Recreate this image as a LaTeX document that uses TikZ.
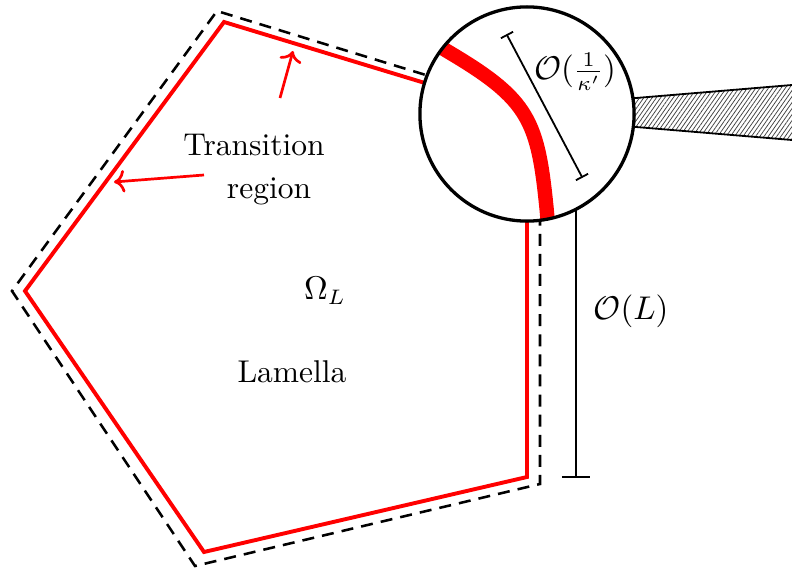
\documentclass[tikz,border=0pt]{standalone}
\usetikzlibrary{patterns.meta,arrows.meta,calc}
\begin{document}
\begin{tikzpicture}[x=0.33333pt,y=-0.33333pt,
  redline/.style={red,line width=1.3pt,line join=miter},
  dashline/.style={black,line width=0.85pt,dash pattern=on 4pt off 2.7pt},
  thinline/.style={black,line width=0.6pt},
  redarrow/.style={red,line width=0.9pt,->},
  lbl/.style={inner sep=0pt,font=\fontsize{10.5}{12.6}\selectfont}]
\useasboundingbox (0,0) rectangle (792,572);
% vertices
\coordinate (R1) at (224,22);
\coordinate (R2) at (25,291);
\coordinate (R3) at (204,552);
\coordinate (R4) at (527,477);
\coordinate (C) at (527,114);
\coordinate (D1) at (217,11);
\coordinate (D2) at (12,291);
\coordinate (D3) at (195,566);
\coordinate (D4) at (540,484);
\coordinate (D5) at (540,110);
% pentagons
\draw[dashline] (D5) -- (D1) -- (D2) -- (D3) -- (D4) -- cycle;
\draw[redline] (C) -- (R1) -- (R2) -- (R3) -- (R4) -- cycle;
% O(L) bracket
\coordinate (LT) at (576,114);
\coordinate (LB) at (576,477);
\draw[thinline] (LT) -- (LB);
\draw[thinline] ([xshift=-4.7pt]LB) -- ([xshift=4.7pt]LB);
\node[lbl] (OL) at (631,311) {$\mathcal{O}(L)$};
% hatched wedge
\coordinate (W1) at (600,101);
\coordinate (W2) at (792,85);
\coordinate (W3) at (792,140);
\coordinate (W4) at (600,124);
\fill[pattern={Lines[angle=55,distance=1.15pt,line width=0.25pt]},pattern color=black!75] (W1) -- (W2) -- (W3) -- (W4) -- cycle;
\draw[thinline] (W1) -- (W2);
\draw[thinline] (W4) -- (W3);
% magnifier circle
\fill[white] (C) circle[radius=35.7pt];
\begin{scope}
\clip (C) circle[radius=35.7pt];
\draw[red,line width=4.8pt] (420,34) -- (447,51) .. controls (530,100) and (538,120) .. (547,213) -- (549,240);
\end{scope}
\draw[black,line width=1.1pt] (C) circle[radius=35.7pt];
% O(1/kappa') bracket
\coordinate (KA) at (507,35);
\coordinate (KB) at (582,177);
\draw[thinline] (KA) -- (KB);
\draw[thinline] ($(KA)!2.3pt!90:(KB)$) -- ($(KA)!2.3pt!-90:(KB)$);
\draw[thinline] ($(KB)!2.3pt!90:(KA)$) -- ($(KB)!2.3pt!-90:(KA)$);
\node[lbl] (OK) at (575,72) {$\mathcal{O}(\frac{1}{\kappa'})$};
% labels
\node[lbl] (T1) at (254,145) {Transition};
\node[lbl] (T2) at (269,191) {region};
\node[lbl] (OM) at (325,291) {$\Omega_L$};
\node[lbl] (LA) at (292,372) {Lamella};
% arrows
\coordinate (A1s) at (280,98);
\coordinate (A1e) at (293,51);
\coordinate (A2s) at (204,175);
\coordinate (A2e) at (114,182);
\draw[redarrow] (A1s) -- (A1e);
\draw[redarrow] (A2s) -- (A2e);
\end{tikzpicture}
\end{document}
